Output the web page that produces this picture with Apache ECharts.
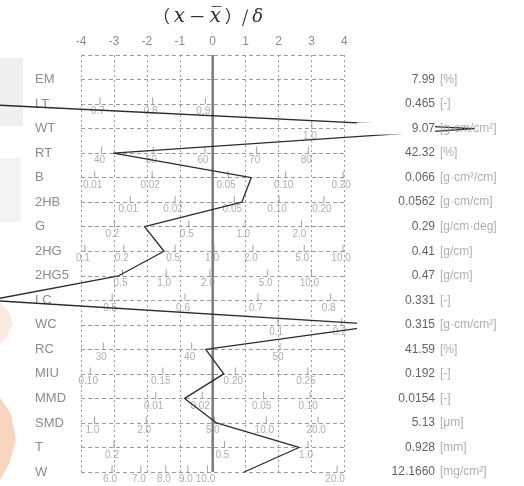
<!DOCTYPE html>
<html>
<head>
<meta charset="utf-8">
<script src="https://cdn.jsdelivr.net/npm/echarts@6/dist/echarts.min.js"></script>
<style>
  html, body { margin: 0; padding: 0; background: #fff; }
  #chart { width: 524px; height: 486px; }
</style>
</head>
<body>
<div id="chart"></div>
<script>
// Hand-evaluation profile: each property is plotted as its deviation from the
// reference mean in units of the standard deviation, on its own row scale.
const rowNames = ['EM', 'LT', 'WT', 'RT', 'B', '2HB', 'G', '2HG', '2HG5',
  'LC', 'WC', 'RC', 'MIU', 'MMD', 'SMD', 'T', 'W'];

// Measured values and how they are printed
const measured = [7.99, 0.465, 9.07, 42.32, 0.066, 0.0562, 0.29, 0.41, 0.47,
  0.331, 0.315, 41.59, 0.192, 0.0154, 5.13, 0.928, 12.1660];
const measuredText = ['7.99', '0.465', '9.07', '42.32', '0.066', '0.0562', '0.29',
  '0.41', '0.47', '0.331', '0.315', '41.59', '0.192', '0.0154', '5.13', '0.928', '12.1660'];
const units = ['[%]', '[-]', '[g·cm/cm²]', '[%]', '[g·cm²/cm]', '[g·cm/cm]',
  '[g/cm·deg]', '[g/cm]', '[g/cm]', '[-]', '[g·cm/cm²]', '[%]', '[-]', '[-]',
  '[μm]', '[mm]', '[mg/cm²]'];

// Row scales: kind (linear / log10), reference mean, standard deviation
// (for log rows the deviation is in decades)
const scaleKind = [null, 'lin', 'log', 'lin', 'log', 'log', 'log', 'log', 'log',
  'lin', 'log', 'lin', 'lin', 'log', 'log', 'log', 'log'];
const scaleMean = [null, 0.914, 0.260, 61.5, 0.0415, 0.0358, 0.671, 0.977, 2.09,
  0.638, 0.049, 42.38, 0.1844, 0.0234, 4.875, 0.4535, 10.28];
const scaleSd = [null, 0.0625, 0.1943, 6.37, 0.1724, 0.2212, 0.176, 0.2551, 0.2268,
  0.0452, 0.156, 3.726, 0.02269, 0.2132, 0.1916, 0.1186, 0.0765];

// Tick labels printed along each row scale
const rowTicks = [
  [],
  ['0.7', '0.8', '0.9'],
  ['1.0'],
  ['40', '50', '60', '70', '80'],
  ['0.01', '0.02', '0.05', '0.10', '0.20'],
  ['0.01', '0.02', '0.05', '0.10', '0.20'],
  ['0.2', '0.5', '1.0', '2.0'],
  ['0.1', '0.2', '0.5', '1.0', '2.0', '5.0', '10.0'],
  ['0.5', '1.0', '2.0', '5.0', '10.0'],
  ['0.5', '0.6', '0.7', '0.8'],
  ['0.1', '0.2'],
  ['30', '40', '50'],
  ['0.10', '0.15', '0.20', '0.25'],
  ['0.01', '0.02', '0.05', '0.10'],
  ['1.0', '2.0', '5.0', '10.0', '20.0'],
  ['0.2', '0.5', '1.0'],
  ['5.0', '6.0', '7.0', '8.0', '9.0', '10.0', '20.0']
];

// Printed deviation range
const sigmaMin = -4, sigmaMax = 4;

function toSigma(row, v) {
  if (scaleKind[row] === 'log') {
    return (Math.log10(v) - Math.log10(scaleMean[row])) / scaleSd[row];
  }
  return (v - scaleMean[row]) / scaleSd[row];
}

const profileData = [];
measured.forEach((v, r) => {
  if (scaleKind[r]) profileData.push([toSigma(r, v), r]);
});

const tickData = [];
rowTicks.forEach((list, r) => {
  list.forEach(t => tickData.push([toSigma(r, parseFloat(t)), r, t]));
});

const gridColor = '#9c9c9c';
const labelGray = '#8c8c8c';
const font = 'Liberation Sans, Arial, sans-serif';

// plotting box of the printed -4..4 range
const box = { left: 81, right: 344.4, top: 55, bottom: 472 };
const unitPx = (box.right - box.left) / (sigmaMax - sigmaMin);
const zeroPx = box.left - sigmaMin * unitPx;
const W = 524, H = 486;
const lastRow = rowNames.length - 1;
const pxToSigma = px => (px - zeroPx) / unitPx;

// value column (right-aligned, on a white plate) and unit column positions
const valueRight = 435, plateWidth = 78, unitLeft = 440;
const valueData = measuredText.map((t, r) => [pxToSigma(valueRight), r, t]);
const unitData = units.map((t, r) => [pxToSigma(unitLeft), r, t]);

const chart = echarts.init(document.getElementById('chart'), null, { renderer: 'canvas' });
chart.setOption({
  animation: false,
  backgroundColor: '#fff',
  graphic: [
    { type: 'rect', silent: true, z: -10, shape: { x: 0, y: 58, width: 23, height: 68 },
      style: { fill: '#f0f0f0' } },
    { type: 'rect', silent: true, z: -10, shape: { x: 0, y: 158, width: 21, height: 64 },
      style: { fill: '#f3f3f3' } },
    { type: 'polygon', silent: true, z: -10,
      shape: { points: [[0, 302], [9, 312], [13, 324], [6, 338], [0, 344]] },
      style: { fill: '#fce9df' } },
    { type: 'polygon', silent: true, z: -10,
      shape: { points: [[0, 398], [11, 414], [16, 440], [9, 464], [0, 480]] },
      style: { fill: '#f9d5bf' } },
    {
      type: 'text', x: 208, y: 17, z: 5,
      style: {
        text: '{a|（ }{i|x}{a| － }{i|x\u0305}{a| ）/ }{d|δ}',
        textAlign: 'center',
        textVerticalAlign: 'middle',
        rich: {
          a: { fontFamily: 'Noto Sans CJK JP', fontSize: 17, fill: '#333' },
          i: { fontFamily: 'DejaVu Serif', fontStyle: 'italic', fontSize: 20, fill: '#333' },
          d: { fontFamily: 'DejaVu Serif', fontStyle: 'italic', fontSize: 18, fill: '#333' }
        }
      }
    }
  ],
  grid: [
    { left: box.left, right: W - box.right, top: box.top, bottom: H - box.bottom },
    // full-width frame on the same pixel scale, for marks that leave the printed box
    { left: 0, right: 0, top: box.top, bottom: H - box.bottom }
  ],
  xAxis: [{
    type: 'value', gridIndex: 0, position: 'top',
    min: sigmaMin, max: sigmaMax, interval: 1,
    axisLine: { show: false }, axisTick: { show: false },
    axisLabel: { color: labelGray, fontSize: 12, fontFamily: font, margin: 7 },
    splitLine: { show: true, lineStyle: { color: gridColor, type: [2, 3], width: 1 } }
  }, {
    type: 'value', gridIndex: 1, min: pxToSigma(0), max: pxToSigma(W),
    axisLine: { show: false }, axisTick: { show: false },
    axisLabel: { show: false }, splitLine: { show: false }
  }],
  yAxis: [{
    type: 'value', gridIndex: 0, min: -1, max: lastRow, interval: 1, inverse: true,
    axisLine: { show: false }, axisTick: { show: false },
    axisLabel: {
      formatter: v => rowNames[v] || '',
      align: 'left', margin: 46, color: labelGray, fontSize: 13, fontFamily: font,
      showMaxLabel: true
    },
    splitLine: { show: true, lineStyle: { color: gridColor, type: [4, 3], width: 1 } }
  }, {
    type: 'value', gridIndex: 1, min: -1, max: lastRow, interval: 1, inverse: true,
    axisLine: { show: false }, axisTick: { show: false },
    axisLabel: { show: false }, splitLine: { show: false }
  }],
  series: [{
    // zero-deviation reference line
    type: 'line', xAxisIndex: 0, yAxisIndex: 0,
    data: [[0, -1], [0, lastRow]],
    symbol: 'none', silent: true, z: 1,
    lineStyle: { color: '#7a7a7a', width: 2.5 }
  }, {
    // row scale ticks and their labels
    type: 'scatter', xAxisIndex: 0, yAxisIndex: 0, data: tickData, z: 2,
    symbol: 'rect', symbolSize: [1, 7], symbolOffset: [0, -3],
    itemStyle: { color: '#8a8a8a' },
    label: {
      show: true, position: 'bottom', distance: 2, offset: [-2, 0],
      formatter: p => p.data[2], fontSize: 10, fontFamily: font, color: '#9a9a9a'
    }
  }, {
    // measured profile
    type: 'line', xAxisIndex: 1, yAxisIndex: 1, data: profileData, clip: false, z: 3,
    symbol: 'none',
    lineStyle: { color: '#2b2b2b', width: 1.3, join: 'round', cap: 'round' }
  }, {
    // white plates behind the measured values
    type: 'scatter', xAxisIndex: 1, yAxisIndex: 1, data: valueData, z: 4,
    silent: true, symbol: 'rect', symbolSize: [plateWidth, 12],
    symbolOffset: [-plateWidth / 2, 0],
    itemStyle: { color: '#ffffff', opacity: 1 }
  }, {
    // measured values
    type: 'scatter', xAxisIndex: 1, yAxisIndex: 1, data: valueData, z: 5,
    symbolSize: 0, silent: true,
    label: {
      show: true, position: 'left', distance: 0,
      formatter: p => p.data[2],
      color: '#3a3a3a', fontSize: 12, fontFamily: font
    }
  }, {
    // units
    type: 'scatter', xAxisIndex: 1, yAxisIndex: 1, data: unitData, z: 5,
    symbolSize: 0, silent: true,
    label: {
      show: true, position: 'right', distance: 0,
      formatter: p => p.data[2],
      color: '#9a9a9a', fontSize: 12, fontFamily: font
    }
  }]
});
</script>
</body>
</html>
